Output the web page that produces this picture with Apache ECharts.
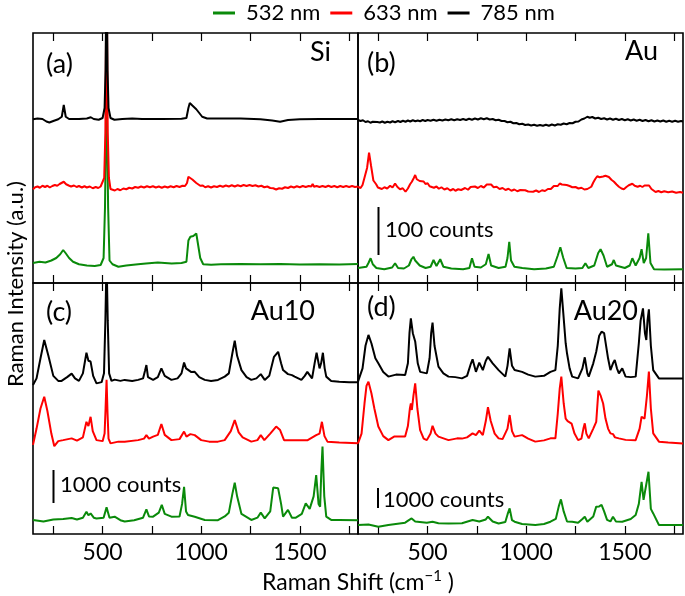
<!DOCTYPE html>
<html>
<head>
<meta charset="utf-8">
<script src="https://cdn.jsdelivr.net/npm/echarts@6/dist/echarts.min.js"></script>
<style>html,body{margin:0;padding:0;background:#fff}#c{width:685px;height:596px}</style>
</head>
<body>
<div id="c"></div>
<script>
// ---- data (x: Raman shift cm^-1, y: offset intensity in panel units 0..100) ----
const legendNames = ['532 nm', '633 nm', '785 nm'];
const xTicks = [250, 500, 750, 1000, 1250, 1500, 1750];
const xTickLabels = [500, 1000, 1500];
const panelLabels = ['(a)', '(b)', '(c)', '(d)'];
const panelNames = ['Si', 'Au', 'Au10', 'Au20'];
const scaleBarTexts = ['100 counts', '1000 counts', '1000 counts'];

const siGreen = [[147,8],[180,8.5],[210,8.2],[240,9],[265,10],[285,11.5],[300,13.2],[312,12],[330,10],[350,8.5],[380,7.5],[420,7],[460,6.8],[490,7.2],[505,10],[512,30],[520,80],[528,30],[535,9],[550,7.5],[580,6.5],[620,7],[680,7.5],[720,7.8],[780,8.2],[850,7.8],[900,8],[925,8.5],[935,17],[945,18.5],[960,18.8],[975,19.8],[985,19],[995,10],[1010,7.5],[1050,7.3],[1100,7.5],[1200,7.6],[1300,7.5],[1400,7.6],[1500,7.4],[1600,7.5],[1700,7.4],[1795,7.6]];
const siRed = [[147,37.5],[158,38.3],[170,38.6],[182,38.1],[195,38.9],[208,38.4],[220,38.9],[232,38.2],[245,38.8],[258,39.2],[270,38.9],[282,39.6],[292,39.8],[303,40.5],[315,39.5],[328,39],[340,38.6],[355,39],[368,38.4],[380,38.8],[395,38.2],[408,38.7],[420,38.2],[435,38.6],[450,37.9],[465,38.4],[478,38],[490,38.6],[500,38.8],[508,42],[514,60],[520,130],[526,60],[532,42],[540,37.6],[550,37.9],[562,37],[575,37.6],[590,37.1],[605,37.8],[620,37.5],[635,38.1],[650,37.8],[665,38.4],[680,38.1],[695,38.6],[710,38.2],[725,38.7],[740,38.3],[755,38.7],[770,38.2],[785,38.6],[800,38.1],[815,38.6],[830,38.2],[845,38.7],[860,38.3],[875,38.8],[890,38.4],[905,38.9],[918,38.8],[928,40],[935,42.5],[945,42.2],[955,41.4],[965,41],[975,40],[985,39.8],[995,38.9],[1008,39],[1020,38.3],[1035,38.7],[1050,38.2],[1065,38.7],[1080,38.4],[1095,38.9],[1110,38.5],[1125,39],[1140,38.6],[1155,39.1],[1170,38.6],[1185,39.1],[1200,38.7],[1215,39.2],[1230,38.8],[1245,39.2],[1260,38.8],[1275,39.1],[1290,38.6],[1305,38.9],[1320,38.3],[1335,38.6],[1350,38],[1365,37.9],[1380,37.4],[1395,37.9],[1410,37.7],[1425,38.3],[1440,38],[1455,38.6],[1470,38.2],[1485,38.7],[1500,38.3],[1515,38.8],[1530,38.4],[1545,38.8],[1558,38.6],[1565,39.6],[1572,38.5],[1585,38.8],[1600,38.4],[1615,38.8],[1630,38.4],[1645,38.9],[1660,38.4],[1675,38.8],[1690,38.3],[1705,38.8],[1720,38.4],[1735,38.8],[1750,38.4],[1765,38.8],[1780,38.4],[1795,38.6]];
const siBlack = [[147,65.5],[170,65.8],[195,65.6],[215,64.6],[230,64.2],[250,64.8],[275,65.5],[293,66.5],[303,71.2],[313,66.5],[330,65.6],[380,65.6],[420,65.8],[440,66.3],[455,65.6],[480,65.3],[500,66],[510,70],[515,85],[520,130],[525,85],[530,70],[540,66],[560,65.3],[600,65.6],[650,65.8],[700,65.6],[800,65.6],[900,65.7],[925,66],[935,70],[942,72],[955,71],[975,69.5],[990,68],[1005,66.5],[1030,65.8],[1100,65.8],[1200,65.8],[1300,65.5],[1360,65],[1400,64.5],[1440,65.2],[1500,65.5],[1600,65.6],[1700,65.6],[1795,65.6]];

const auGreen = [[147,6],[190,6.5],[200,8],[211,9.9],[222,7.5],[240,6],[280,5.5],[320,6.2],[335,7.9],[350,6],[380,5.8],[405,7],[418,9.5],[428,10.5],[437,9],[445,9.6],[460,7],[490,6],[515,6.5],[530,9.2],[545,6.8],[564,9.5],[580,6.5],[620,5.8],[680,5.5],[712,6],[725,9.9],[738,6.5],[770,6.2],[795,7.5],[809,11.6],[822,7],[860,6],[895,6.5],[905,10],[914,16.5],[923,9],[940,6.5],[980,6],[1040,5.5],[1100,5.8],[1140,6.5],[1160,11],[1173,14.3],[1188,10],[1205,6],[1250,5.8],[1285,6],[1300,7.9],[1315,6],[1345,7],[1365,12],[1377,13.5],[1392,11],[1410,6.5],[1435,7.5],[1444,9.2],[1455,7],[1500,6],[1525,7],[1538,9.9],[1555,7],[1575,10],[1585,13.5],[1596,8],[1608,10],[1619,19.9],[1630,8],[1648,5.5],[1700,5.4],[1795,5.5]];
const auRed = [[147,38.5],[160,38],[170,39.2],[180,39.5],[193,46],[203,52.1],[213,47],[225,41],[239,39.5],[248,38.2],[256,38.8],[268,37.6],[281,38.3],[295,37.8],[310,38.9],[322,38.2],[335,39.8],[347,38.4],[360,37.5],[374,37.9],[388,36.5],[400,37.8],[411,39.5],[420,40.5],[430,42],[437,43.2],[445,41.5],[452,42],[460,40.8],[470,40.2],[480,40.6],[489,39.6],[500,39.9],[510,38.7],[520,39.2],[532,38.1],[545,38.6],[557,37.7],[570,38.3],[585,37.4],[600,37.9],[615,37],[630,37.6],[641,36.9],[655,37.5],[670,37.2],[690,38],[705,37.3],[718,38.4],[726,37.8],[740,38.6],[755,38],[770,38.8],[785,38.2],[800,39.4],[810,38.9],[822,39.4],[835,38.3],[850,38.5],[865,37.6],[880,38],[895,37.2],[910,37.7],[925,36.9],[940,37.4],[955,36.7],[970,37.2],[980,36.5],[995,37.1],[1010,36.6],[1020,37.2],[1035,36.5],[1050,37],[1065,36.4],[1080,37.1],[1095,36.8],[1110,37.6],[1125,37.6],[1140,38.8],[1149,39.2],[1160,38.8],[1170,39.8],[1181,39.4],[1191,40],[1205,39.2],[1220,38.8],[1234,38.3],[1250,38.4],[1265,37.8],[1280,38.1],[1295,37.4],[1310,37.6],[1318,37],[1330,38.5],[1340,40.2],[1350,41.6],[1360,42.7],[1372,42.3],[1382,43],[1390,42.6],[1402,42.9],[1412,42.2],[1419,42.4],[1432,41.3],[1445,40.5],[1458,39.4],[1470,38.5],[1483,37.8],[1495,37.5],[1508,38.4],[1520,39.1],[1530,38.8],[1538,39.7],[1550,38.9],[1565,38.5],[1578,38.9],[1589,38.4],[1600,39],[1610,39.3],[1623,39],[1635,37.6],[1645,36.9],[1656,36.4],[1670,36.8],[1685,36.3],[1700,36.7],[1720,36.3],[1740,36.6],[1760,36.1],[1780,36.4],[1795,36.1]];
const auBlack = [[147,65.2],[160,64.8],[172,65.1],[185,64.4],[198,64.7],[210,64.1],[222,64.5],[232,63.9],[245,64.4],[258,64.2],[270,64.6],[283,64.1],[296,64.5],[310,64.2],[322,64.7],[335,64.3],[350,64.8],[362,64.4],[375,64.9],[388,64.5],[400,65],[412,64.6],[425,65.1],[438,64.7],[450,65],[462,64.7],[475,65.2],[488,64.8],[500,65.2],[515,64.9],[530,65.3],[545,64.9],[560,65.3],[575,65],[590,65.4],[605,65.1],[620,65.5],[635,65.1],[650,65.5],[665,65.2],[680,65.6],[695,65.2],[710,65.7],[725,65.3],[740,65.8],[755,65.4],[770,65.9],[785,65.5],[800,65.9],[815,65.4],[830,65.6],[845,65.1],[860,65.3],[875,64.8],[890,64.8],[905,64.3],[920,64.5],[935,63.9],[950,64],[965,63.5],[980,63.7],[995,63.2],[1010,63.4],[1025,63],[1040,63.3],[1055,62.9],[1070,63.2],[1085,62.9],[1100,63.3],[1115,62.9],[1130,63.4],[1145,63],[1160,63.5],[1175,63.3],[1190,63.8],[1205,63.5],[1220,64],[1235,63.9],[1250,64.5],[1265,64.6],[1280,65.4],[1295,65.8],[1310,66.5],[1322,66.1],[1335,66.4],[1350,65.8],[1365,66.1],[1380,65.6],[1395,65.9],[1410,65.4],[1425,65.8],[1440,65.3],[1455,65.7],[1470,65.2],[1485,65.6],[1500,65.1],[1515,65.5],[1530,65],[1545,65.4],[1560,64.9],[1575,65.3],[1590,64.8],[1605,65.2],[1620,64.7],[1635,65.1],[1650,64.6],[1665,65],[1680,64.6],[1695,65],[1710,64.5],[1725,64.9],[1740,64.5],[1755,64.9],[1770,64.5],[1785,64.8],[1795,64.6]];

const au10Green = [[147,5.6],[200,5],[250,5.8],[300,6],[343,6.4],[370,5.8],[400,6.5],[418,8.9],[428,7.5],[439,8.2],[455,6.5],[469,6.2],[505,6.5],[520,10.6],[535,6.5],[561,6.9],[590,5.5],[612,5],[660,5.5],[705,6.5],[722,9.8],[735,7],[756,6.9],[785,8.5],[800,11.6],[815,8],[849,6.9],[890,7],[903,12],[913,18.8],[923,9],[933,7.6],[967,6.9],[1018,5.6],[1085,5.5],[1119,7],[1140,8.5],[1158,16],[1170,20.4],[1182,15],[1204,8],[1254,5.6],[1285,6.5],[1302,8.5],[1322,6.2],[1350,9],[1365,18.5],[1390,18.2],[1405,12],[1415,6.9],[1440,9.6],[1460,6.5],[1480,6.5],[1510,8],[1530,12.2],[1550,10],[1570,15],[1583,23.5],[1595,12],[1603,10.9],[1609,25],[1615,34.8],[1624,15],[1634,6.9],[1659,5.6],[1700,5.6],[1795,5.5]];
const au10Red = [[147,35.5],[165,42],[185,50],[204,54.7],[220,49],[240,40],[255,35],[275,37],[300,37.4],[343,38.1],[370,37.2],[400,38.5],[418,44.7],[428,43],[439,46.7],[450,41],[469,37.4],[500,37],[510,40],[515,50],[520,61.4],[525,48],[530,38],[540,36.1],[580,36.8],[612,36.8],[680,37.4],[710,38],[722,39.4],[735,38],[756,38.8],[780,39.5],[798,43.8],[815,39.5],[849,37.4],[890,37.8],[913,40.8],[925,38.8],[945,39.8],[967,39.4],[1000,37.4],[1040,36.8],[1085,36.8],[1119,37.4],[1150,41],[1170,45.4],[1190,40.5],[1210,38.5],[1254,36.8],[1285,37.4],[1302,39.4],[1320,37.4],[1350,40],[1380,42.8],[1400,41.4],[1420,37.4],[1474,37.4],[1540,37.4],[1583,39.4],[1600,40],[1612,44.7],[1625,39],[1640,36.8],[1700,36.5],[1795,36.2]];
const au10Black = [[147,59.4],[165,62],[185,70],[204,77.3],[225,71],[250,63],[275,61],[292,61],[320,62.5],[343,63.9],[360,62],[380,61],[400,64],[418,72.2],[428,69],[439,68.7],[452,63],[469,60],[495,60.5],[507,64],[514,85],[520,110],[526,85],[533,64],[545,61],[561,61.5],[590,61],[612,61.4],[650,61],[680,61.4],[705,62],[715,65],[722,67.3],[730,62.5],[756,61.4],[780,62.5],[798,66],[815,63],[849,61.4],[880,62],[900,64],[913,68.3],[923,66],[933,66],[950,64.5],[967,64.6],[990,62.5],[1018,61.4],[1050,61],[1085,61.4],[1119,62.7],[1140,64],[1158,72],[1170,77],[1182,71],[1204,65.3],[1230,62.5],[1254,61.4],[1280,62],[1302,63.7],[1322,61.4],[1345,63],[1369,70.6],[1390,72.6],[1405,68],[1415,65.3],[1440,63.7],[1460,63.3],[1474,62.7],[1508,61.4],[1525,63],[1538,64.6],[1562,62],[1575,68],[1585,72.2],[1600,66],[1608,68],[1617,72.2],[1626,66],[1634,62.7],[1659,61],[1700,60.7],[1750,60.5],[1795,60.5]];

const au20Green = [[147,3.6],[200,3.8],[250,2.9],[301,3.6],[386,4.5],[405,5.5],[419,6.2],[437,5],[496,4.5],[525,4.9],[555,4.3],[606,4.2],[674,4.3],[728,5.6],[762,5],[795,5.8],[806,6.9],[830,5],[860,4.2],[894,4.8],[906,8],[916,10.2],[928,5.5],[941,4.9],[979,4],[1046,3.6],[1090,4],[1123,4.9],[1150,6],[1165,11],[1176,13.8],[1190,9],[1207,5],[1233,4.9],[1263,4.5],[1285,6],[1297,6.9],[1310,4.9],[1340,7],[1355,10.9],[1370,11],[1382,11.6],[1395,9],[1410,5.6],[1427,5],[1440,6.9],[1455,5],[1487,4.9],[1530,6],[1555,7.6],[1571,12],[1585,20.8],[1595,13.6],[1605,14],[1620,24.8],[1632,10],[1644,8.2],[1673,3.6],[1720,3.6],[1795,3.6]];
const au20Red = [[147,36.1],[165,40],[180,52],[190,59],[200,60.7],[215,56.1],[230,50],[250,42.8],[275,39],[301,37.4],[330,38.8],[360,38.8],[386,38.8],[400,43],[410,50],[415,52],[420,49.4],[428,55],[437,60],[448,50],[462,41.4],[480,38],[496,37.4],[515,40],[525,43.1],[540,40],[555,38.8],[606,37.4],[650,38.1],[674,38],[700,38.5],[728,40.1],[745,39.4],[762,41.2],[780,39.4],[795,45],[806,50.5],[820,45],[840,40],[860,38.1],[880,37.8],[905,42],[916,47.4],[928,41],[941,38.8],[979,39.4],[1010,38],[1046,36.8],[1090,37.3],[1123,38.1],[1148,38.1],[1160,48],[1170,58],[1178,62.7],[1190,52],[1200,46],[1210,45],[1230,44],[1245,40],[1263,37.4],[1280,38],[1290,42],[1297,44.1],[1305,40],[1317,38.1],[1340,42],[1355,44.7],[1366,57.1],[1378,55],[1390,52],[1402,46],[1415,42],[1427,40.1],[1440,39.8],[1450,38.5],[1470,38.1],[1504,37.5],[1555,37.4],[1575,42],[1585,46.7],[1600,46],[1612,55],[1622,64.7],[1632,50],[1644,40.1],[1673,36.8],[1720,36.5],[1795,36.1]];
const au20Black = [[147,60.7],[170,66],[185,75],[200,79.3],[215,76],[235,70],[250,68],[275,64.5],[301,62.7],[340,63.5],[386,63.3],[400,68],[408,80],[415,85.9],[425,80],[437,76.7],[450,68],[462,64.6],[496,64],[510,70],[518,80],[525,84.2],[535,75],[555,66.7],[580,64],[606,62.7],[640,62.5],[674,62],[700,63],[720,68],[728,69.6],[745,64.6],[762,68.3],[780,65.3],[795,69],[806,70.6],[830,68],[860,65.3],[894,62.7],[905,67],[916,74],[928,67],[941,65.3],[979,64.6],[1010,63.5],[1046,62.7],[1090,63],[1123,64.6],[1148,65.3],[1160,75],[1170,90],[1178,97.9],[1188,88],[1200,76],[1207,71.9],[1220,66],[1233,62.7],[1263,62],[1285,66],[1297,70.4],[1310,64],[1317,62.7],[1340,68],[1355,72.6],[1370,79],[1382,80.6],[1395,80],[1402,79.3],[1415,70],[1427,65.3],[1440,68],[1449,69.3],[1460,66],[1470,64],[1487,66],[1504,62.7],[1530,62.5],[1555,62.7],[1571,76],[1580,85],[1592,89.9],[1602,80],[1609,77.3],[1615,85],[1622,89.5],[1632,75],[1644,65.3],[1673,62],[1720,62],[1795,62]];

// ---- layout / style ----
const FONT = 'Lato';
const COLORS = ['#0a8a0a', '#ff0000', '#000000'];
const grids = [
  {left: 33, top: 33, width: 325, height: 250},
  {left: 358, top: 33, width: 325, height: 250},
  {left: 33, top: 283, width: 325, height: 251},
  {left: 358, top: 283, width: 325, height: 251}
];
const panelData = [
  [siGreen, siRed, siBlack],
  [auGreen, auRed, auBlack],
  [au10Green, au10Red, au10Black],
  [au20Green, au20Red, au20Black]
];

const gridOpts = grids.map(g => Object.assign({show: true, borderColor: '#000', borderWidth: 1.6, backgroundColor: 'transparent', containLabel: false}, g));
const xAxes = [];
const yAxes = [];
grids.forEach((g, i) => {
  const bottomRow = i >= 2;
  ['bottom', 'top'].forEach(pos => {
    xAxes.push({
      type: 'value', gridIndex: i, position: pos, min: 147, max: 1795,
      axisLine: {show: false},
      splitLine: {show: false},
      axisTick: {show: true, inside: true, length: 8, customValues: xTicks, lineStyle: {color: '#000', width: 1.2}},
      axisLabel: {show: bottomRow && pos === 'bottom', customValues: xTickLabels, formatter: v => String(v),
        fontFamily: FONT, fontSize: 23, color: '#000', margin: 7}
    });
  });
  yAxes.push({type: 'value', gridIndex: i, min: 0, max: 100, show: false});
});

const series = [];
panelData.forEach((arr, i) => {
  arr.forEach((d, k) => {
    series.push({
      type: 'line', name: legendNames[k], xAxisIndex: i * 2, yAxisIndex: i,
      data: d, showSymbol: false, symbol: 'none', clip: true,
      lineStyle: {color: COLORS[k], width: 2}, itemStyle: {color: COLORS[k]},
      z: 2 + k, animation: false
    });
  });
});

const txt = (t, x, y, opts) => Object.assign({
  type: 'text', z: 100,
  style: Object.assign({text: t, x: x, y: y, font: '22px ' + FONT, fill: '#000', textAlign: 'left', textVerticalAlign: 'middle'}, opts || {})
});
const big = (t, x, y, align) => txt(t, x, y, {font: '27px ' + FONT, textAlign: align || 'left'});
const vline = (x, y1, y2) => ({type: 'line', z: 100, shape: {x1: x, y1: y1, x2: x, y2: y2}, style: {stroke: '#000', lineWidth: 2}});

const graphic = [
  big(panelLabels[0], 46, 64), big(panelNames[0], 331, 52, 'right'),
  big(panelLabels[1], 367, 63), big(panelNames[1], 658, 51, 'right'),
  big(panelLabels[2], 46, 312), big(panelNames[2], 315, 311, 'right'),
  big(panelLabels[3], 367, 307), big(panelNames[3], 638, 311, 'right'),
  vline(378.5, 207, 255), txt(scaleBarTexts[0], 385, 230),
  vline(53.5, 470, 503), txt(scaleBarTexts[1], 60, 485),
  vline(378, 488, 508), txt(scaleBarTexts[2], 383, 500),
  {type: 'text', z: 100, style: {text: 'Raman Shift (cm{sup|−1} )', x: 358, y: 583, textAlign: 'center', textVerticalAlign: 'middle', font: '23px ' + FONT, fill: '#000',
    rich: {sup: {fontSize: 15, fontFamily: FONT, padding: [0, 0, 14, 0]}}}},
  {type: 'text', z: 100, rotation: Math.PI / 2, x: 16, y: 284,
    style: {text: 'Raman Intensity (a.u.)', x: 0, y: 0, textAlign: 'center', textVerticalAlign: 'middle', font: '22px ' + FONT, fill: '#000'}}
];

const chart = echarts.init(document.getElementById('c'), null, {renderer: 'canvas'});
chart.setOption({
  animation: false,
  backgroundColor: '#fff',
  legend: {
    data: legendNames, left: 208, top: -3, icon: 'rect', itemWidth: 22, itemHeight: 3, itemGap: 10,
    textStyle: {fontFamily: FONT, fontSize: 22, color: '#000', padding: [0, 0, 0, 6]}
  },
  grid: gridOpts,
  xAxis: xAxes,
  yAxis: yAxes,
  series: series,
  graphic: graphic
});
</script>
</body>
</html>
